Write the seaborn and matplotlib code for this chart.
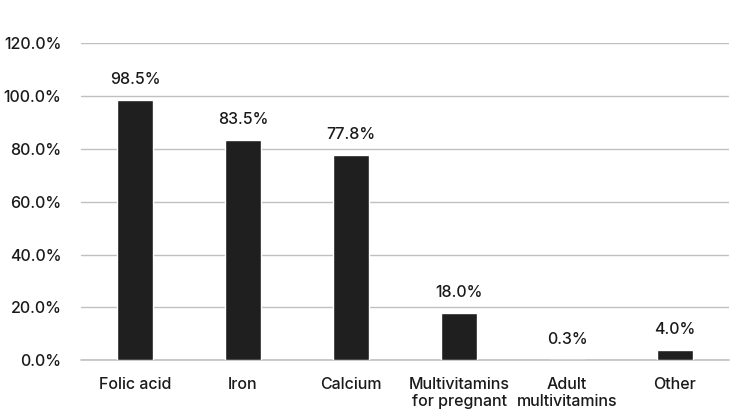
import matplotlib
matplotlib.use('Agg')
import matplotlib.pyplot as plt
import seaborn as sns
import pandas as pd
from matplotlib.ticker import FuncFormatter

sns.set_style('white')
plt.rcParams['font.family'] = ['Inter', 'DejaVu Sans']

categories = ['Folic acid', 'Iron', 'Calcium', 'Multivitamins\nfor pregnant',
              'Adult\nmultivitamins', 'Other']
values = [98.5, 83.5, 77.8, 18.0, 0.3, 4.0]

df = pd.DataFrame({'cat': categories, 'pct': values})

fig = plt.figure(figsize=(7.5, 4.19), dpi=100)
ax = fig.add_axes([0.108, 0.14, 0.864, 0.757])

sns.barplot(data=df, x='cat', y='pct', color='#1f1f1f', width=0.33,
            saturation=1, ax=ax, zorder=3)

ax.set_ylim(0, 120)
ax.set_yticks(range(0, 121, 20))
ax.yaxis.set_major_formatter(FuncFormatter(lambda v, p: f'{v:.1f}%'))
ax.grid(axis='y', color='#c0c0c0', linewidth=1, zorder=0)
ax.axhline(0, color='#c0c0c0', linewidth=1.2, zorder=2, clip_on=False)
for s in ax.spines.values():
    s.set_visible(False)
ax.set_xlabel('')
ax.set_ylabel('')
ax.tick_params(axis='both', length=0, labelsize=11.5, colors='#1a1a1a')
for lbl in ax.get_xticklabels() + ax.get_yticklabels():
    lbl.set_fontweight('medium')
ax.tick_params(axis='x', pad=12)
ax.tick_params(axis='y', pad=14)

for i, v in enumerate(values):
    ax.annotate(f'{v:.1f}%', (i, v), xytext=(0, 9), textcoords='offset points',
                ha='center', va='bottom', fontsize=11.5, fontweight='medium',
                color='#1a1a1a')

fig.savefig('out.png', dpi=100)
